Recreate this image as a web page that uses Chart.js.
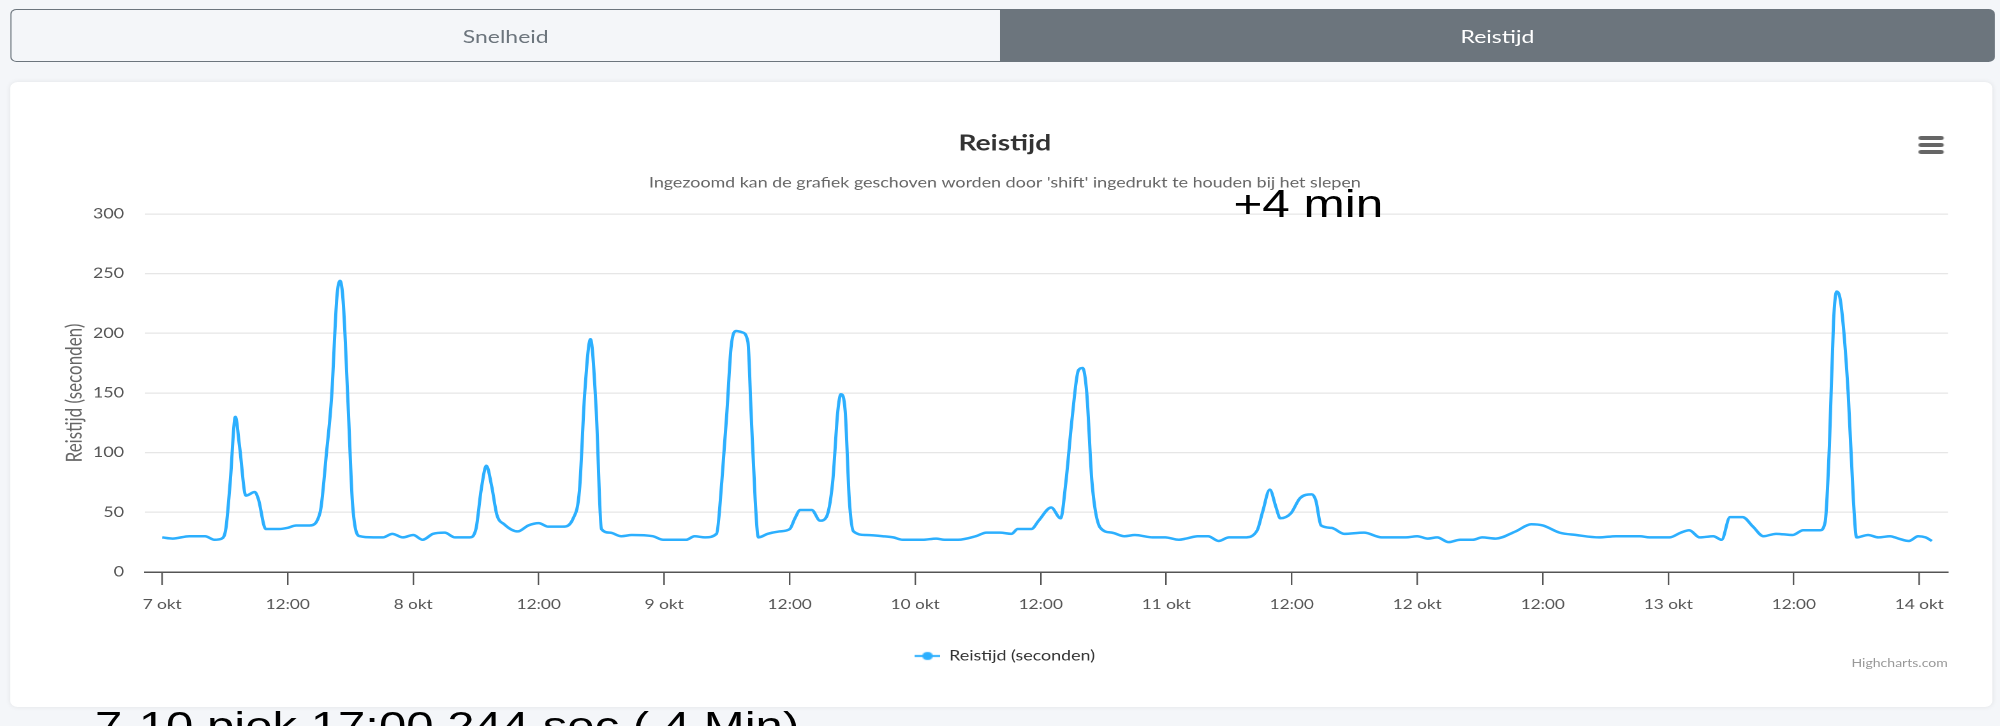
<!DOCTYPE html>
<html lang="nl">
<head>
<meta charset="utf-8">
<title>Reistijd</title>
<script src="https://cdn.jsdelivr.net/npm/chart.js@4.4.1/dist/chart.umd.min.js"></script>
<style>
  html, body { margin: 0; padding: 0; }
  body { width: 2000px; height: 726px; overflow: hidden; background: #f4f6f9; font-family: Lato, "Open Sans", sans-serif; }
  /* the page is laid out 1568 wide and stretched to the window width */
  #page { position: relative; width: 1568px; height: 726px; transform: scaleX(1.27551); transform-origin: 0 0; }
  .tab { position: absolute; top: 9px; height: 53px; box-sizing: border-box; display: flex; align-items: center; justify-content: center; font-size: 18px; }
  #tab-speed { left: 8px; width: 776px; border: 1.5px solid #6c757d; border-right: none; border-radius: 5px 0 0 5px; color: #6c757d; }
  #tab-time { left: 784px; width: 780px; background: #6c757d; color: #fff; border-radius: 0 5px 5px 0; }
  #card { position: absolute; left: 8px; top: 82px; width: 1554px; height: 625px; background: #fff; border-radius: 6px; box-shadow: 0 0 5px rgba(0,0,0,0.08); }
  #chart-wrap { position: absolute; left: 0; top: 0; width: 1554px; height: 624px; }
  #menu { position: absolute; left: 1496px; top: 54px; width: 19.5px; }
  #menu span { display: block; height: 3.5px; background: #666; border-radius: 2px; margin-bottom: 3.7px; }
  #credits { position: absolute; right: 35px; top: 574px; font-size: 11px; color: #999; }
  .note { position: absolute; font-family: "Liberation Sans", Arial, sans-serif; color: #000; line-height: 1; white-space: nowrap; }
  #note-top { left: 967px; top: 185px; font-size: 38.8px; }
  #note-bottom { left: 74.5px; top: 707px; font-size: 38.5px; }
</style>
</head>
<body>
<div id="page">
  <div class="tab" id="tab-speed">Snelheid</div>
  <div class="tab" id="tab-time">Reistijd</div>
  <div id="card">
    <div id="chart-wrap"><canvas id="reistijdChart"></canvas></div>
    <div id="menu"><span></span><span></span><span></span></div>
    <div id="credits">Highcharts.com</div>
  </div>
  <div class="note" id="note-top">+4 min</div>
  <div class="note" id="note-bottom">7-10 piek 17:00 244 sec ( 4 Min)</div>
</div>

<script>
// hours since 7 okt 00:00
const hours = [
  0, 1, 2.6, 4.1, 5, 5.7, 6.1, 6.5, 7, 7.4, 8, 8.85, 9.2, 9.9, 11.2, 12, 12.8, 14.1, 15.1, 15.7,
  16.2, 16.7, 17, 17.3, 17.8, 18.2, 18.9, 20.2, 21.1, 22, 23, 24, 24.9, 25.9, 27, 28, 29.4, 30, 30.5, 31,
  31.5, 32, 32.7, 34, 35, 36, 36.9, 38.3, 39.3, 39.9, 40.4, 40.95, 41.5, 42, 42.8, 43.9, 44.9, 46.9, 47.9, 50.1,
  50.9, 51.9, 53, 53.5, 54, 54.4, 54.9, 55.4, 56, 56.3, 56.7, 57, 57.9, 59, 60, 60.5, 61, 62.1, 62.9, 63.5,
  64.1, 64.6, 64.9, 65.3, 65.7, 66.1, 67.3, 68.9, 69.9, 70.8, 72.7, 74, 74.8, 76.1, 77.8, 78.8, 80.1, 81.2, 81.8, 83.1,
  83.8, 85, 85.9, 86.4, 87, 87.6, 88, 88.4, 88.9, 89.7, 90.8, 92, 93, 94.7, 95.9, 97.2, 97.9, 99, 100, 101,
  102, 103.5, 104.7, 105.2, 105.9, 106.5, 106.9, 107.9, 108.8, 109.9, 110.3, 110.8, 111.8, 113, 114.9, 116.6, 118.9, 120, 121, 121.9,
  123, 124.1, 125.3, 126.2, 127.5, 129.4, 130.9, 132, 133.6, 135.2, 137.4, 139, 141.3, 142.2, 144.1, 145.2, 146, 147, 148.3, 149.1,
  149.9, 151.1, 152.1, 153.1, 154.3, 155.9, 156.9, 158.5, 159, 159.4, 159.8, 160.1, 160.5, 161.2, 161.7, 162, 163.1, 164.1, 165.2, 166,
  167, 167.9, 168.6, 169.2
];
const travelTimes = [
  29, 28, 30, 30, 27, 28, 37, 75, 130, 105, 64, 67, 61, 36, 36, 37, 39, 39, 50, 99,
  147, 230, 244, 227, 135, 57, 30, 29, 29, 32, 29, 31, 27, 32, 33, 29, 29, 36, 69, 89,
  72, 48, 40, 34, 39, 41, 38, 38, 45, 69, 150, 195, 135, 36, 33, 30, 31, 30, 27, 27,
  30, 29, 32, 75, 135, 189, 202, 201, 193, 135, 60, 29, 32, 34, 36, 45, 52, 52, 43, 46,
  75, 135, 149, 135, 60, 34, 31, 30, 29, 27, 27, 28, 27, 27, 30, 33, 33, 32, 36, 36,
  43, 54, 45, 75, 129, 169, 171, 150, 75, 37, 33, 30, 31, 29, 29, 27, 28, 30, 30, 26,
  29, 29, 35, 50, 69, 54, 45, 49, 62, 65, 60, 39, 37, 32, 33, 29, 29, 30, 28, 29,
  25, 27, 27, 29, 28, 34, 40, 39, 33, 31, 29, 30, 30, 29, 29, 33, 35, 29, 30, 27,
  46, 46, 38, 30, 32, 31, 35, 35, 42, 105, 210, 235, 225, 150, 60, 29, 31, 29, 30, 28,
  26, 30, 29, 26
];

const tickHours = [0, 12, 24, 36, 48, 60, 72, 84, 96, 108, 120, 132, 144, 156, 168];
const tickLabels = ['7 okt', '12:00', '8 okt', '12:00', '9 okt', '12:00', '10 okt', '12:00',
  '11 okt', '12:00', '12 okt', '12:00', '13 okt', '12:00', '14 okt'];

const lineColor = '#2caffe';

// legend symbol: short line with a round marker
const legendSymbol = function () {
  const c = document.createElement('canvas');
  c.width = 20;
  c.height = 10;
  const g = c.getContext('2d');
  g.strokeStyle = lineColor;
  g.lineWidth = 2;
  g.beginPath();
  g.moveTo(0, 5);
  g.lineTo(20, 5);
  g.stroke();
  g.fillStyle = lineColor;
  g.beginPath();
  g.arc(10, 5, 4, 0, Math.PI * 2);
  g.fill();
  return c;
};

Chart.defaults.font.family = 'Lato, "Open Sans", sans-serif';

const data = {
  datasets: [
    {
      label: 'Reistijd (seconden)',
      data: hours.map((h, i) => ({ x: h, y: travelTimes[i] })),
      borderColor: lineColor,
      backgroundColor: lineColor,
      borderWidth: 2.5,
      pointRadius: 0,
      cubicInterpolationMode: 'monotone',
    }
  ],
};

const config = {
  type: 'line',
  data: data,
  options: {
    responsive: true,
    maintainAspectRatio: false,
    animation: false,
    devicePixelRatio: 2,
    events: [],
    layout: {
      padding: { left: 40.4, right: 34.8, top: 0, bottom: 33 }
    },
    scales: {
      x: {
        type: 'linear',
        min: -1.64,
        max: 170.74,
        afterBuildTicks: scale => {
          scale.ticks = tickHours.map(v => ({ value: v }));
        },
        afterFit: scale => { scale.height = 44; },
        ticks: {
          autoSkip: false,
          maxRotation: 0,
          minRotation: 0,
          padding: 11.5,
          color: '#555',
          font: { size: 13.5 },
          callback: (value, index) => tickLabels[index],
        },
        grid: {
          drawOnChartArea: false,
          drawTicks: true,
          tickLength: 13,
          color: '#555',
          lineWidth: 1.2,
        },
        border: { display: true, color: '#555', width: 1.5 },
      },
      y: {
        min: 0,
        max: 300,
        afterFit: scale => { scale.width = 65.3; },
        ticks: {
          stepSize: 50,
          padding: 16.5,
          color: '#555',
          font: { size: 14 },
        },
        grid: {
          color: '#e6e6e6',
          lineWidth: 1.2,
          drawTicks: false,
        },
        border: { display: false },
        title: {
          display: true,
          text: 'Reistijd (seconden)',
          color: '#666',
          font: { size: 17 },
          padding: 0,
        },
      },
    },
    plugins: {
      title: {
        display: true,
        text: 'Reistijd',
        color: '#333',
        font: { size: 22, weight: 'bold' },
        padding: { top: 48.2, bottom: 0 },
      },
      subtitle: {
        display: true,
        text: "Ingezoomd kan de grafiek geschoven worden door 'shift' ingedrukt te houden bij het slepen",
        color: '#666',
        font: { size: 14 },
        padding: { top: 17.8, bottom: 22.8 },
      },
      legend: {
        position: 'bottom',
        labels: {
          usePointStyle: true,
          pointStyle: legendSymbol(),
          pointStyleWidth: 20,
          padding: 33,
          color: '#333',
          font: { size: 14 },
        },
      },
      tooltip: { enabled: false },
    },
  },
};

const reistijdChart = new Chart(document.getElementById('reistijdChart'), config);
</script>
</body>
</html>
